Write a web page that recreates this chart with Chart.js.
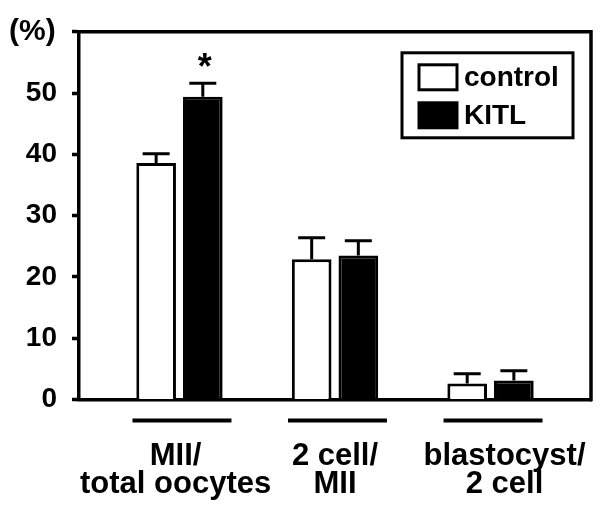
<!DOCTYPE html>
<html>
<head>
<meta charset="utf-8">
<script src="https://cdn.jsdelivr.net/npm/chart.js@4"></script>
<style>
  html, body { margin: 0; padding: 0; background: #fff; }
  #wrap { width: 600px; height: 513px; }
</style>
</head>
<body>
<div id="wrap"><canvas id="chart" width="600" height="513"></canvas></div>
<script>
// values
const categories = [['MII/', 'total oocytes'], ['2 cell/', 'MII'], ['blastocyst/', '2 cell']];
const seriesNames = ['control', 'KITL'];
const controlValues = [38.6, 22.9, 2.6];
const controlErrors = [1.5, 3.5, 1.6];
const kitlValues = [49.4, 23.5, 3.1];
const kitlErrors = [2.2, 2.4, 1.6];
const kitlMarks = ['*', '', ''];
const yTicks = [0, 10, 20, 30, 40, 50, 60];
const yTickLabels = ['0', '10', '20', '30', '40', '50', ''];
const unitLabel = '(%)';

const FONT = "'Liberation Sans', Arial, Helvetica, sans-serif";
const LINE = 3.5;
// labels in the original are not exactly centred under their groups
const LABEL_NUDGE = [-0.025, 0, 0.09];

function toPoints(values) {
    return values.map((v, i) => ({ x: i, y: v }));
}

// top and right edges of the box
const framePlugin = {
    id: 'frame',
    afterDraw(chart) {
        const { ctx, chartArea: a } = chart;
        ctx.save();
        ctx.strokeStyle = '#000';
        ctx.lineWidth = LINE;
        ctx.lineCap = 'square';
        ctx.beginPath();
        ctx.moveTo(a.left, a.top);
        ctx.lineTo(a.right, a.top);
        ctx.lineTo(a.right, a.bottom);
        ctx.stroke();
        ctx.restore();
    }
};

// error bars and significance mark
const errorPlugin = {
    id: 'errors',
    afterDatasetsDraw(chart) {
        const { ctx } = chart;
        const yScale = chart.scales.y;
        ctx.save();
        ctx.strokeStyle = '#000';
        ctx.lineWidth = 3;
        chart.data.datasets.forEach((ds, d) => {
            const meta = chart.getDatasetMeta(d);
            meta.data.forEach((bar, i) => {
                const top = yScale.getPixelForValue(ds.data[i].y + ds.errors[i]);
                ctx.beginPath();
                ctx.moveTo(bar.x, bar.y);
                ctx.lineTo(bar.x, top);
                ctx.moveTo(bar.x - 13.5, top);
                ctx.lineTo(bar.x + 13.5, top);
                ctx.stroke();
                if (ds.marks && ds.marks[i]) {
                    ctx.fillStyle = '#000';
                    ctx.font = 'bold 36px ' + FONT;
                    ctx.textAlign = 'center';
                    ctx.textBaseline = 'middle';
                    ctx.fillText(ds.marks[i], bar.x + 2, top - 14);
                }
            });
        });
        ctx.restore();
    }
};

// short lines under each group, legend box, unit label
const decorPlugin = {
    id: 'decor',
    afterDraw(chart) {
        const { ctx, chartArea: a } = chart;
        const xScale = chart.scales.x;
        ctx.save();
        ctx.strokeStyle = '#000';
        ctx.fillStyle = '#000';

        ctx.lineWidth = 4;
        categories.forEach((c, i) => {
            const cx = xScale.getPixelForValue(i);
            ctx.beginPath();
            ctx.moveTo(cx - 47, a.bottom + 21);
            ctx.lineTo(cx + 52, a.bottom + 21);
            ctx.stroke();
        });

        // legend
        const bx = a.right - 189, by = a.top + 21, bw = 171, bh = 85;
        ctx.lineWidth = 3;
        ctx.strokeRect(bx, by, bw, bh);
        ctx.font = 'bold 28px ' + FONT;
        ctx.textAlign = 'left';
        ctx.textBaseline = 'middle';
        chart.data.datasets.forEach((ds, d) => {
            const sy = by + 12 + d * 38;
            ctx.fillStyle = ds.backgroundColor;
            ctx.fillRect(bx + 17, sy, 38, 25);
            ctx.strokeRect(bx + 17, sy, 38, 25);
            ctx.fillStyle = '#000';
            ctx.fillText(ds.label, bx + 62, sy + 13);
        });

        ctx.font = 'bold 30px ' + FONT;
        ctx.textAlign = 'left';
        ctx.fillText(unitLabel, 9, a.top);
        ctx.restore();
    }
};

new Chart(document.getElementById('chart'), {
    type: 'bar',
    data: {
        datasets: [{
            label: seriesNames[0],
            data: toPoints(controlValues),
            errors: controlErrors,
            backgroundColor: '#ffffff',
            borderColor: '#000000',
            borderWidth: 3
        }, {
            label: seriesNames[1],
            data: toPoints(kitlValues),
            errors: kitlErrors,
            marks: kitlMarks,
            backgroundColor: '#000000',
            borderColor: '#000000',
            borderWidth: 3
        }]
    },
    options: {
        responsive: false,
        animation: false,
        devicePixelRatio: 1,
        layout: { padding: { left: 0, right: 9, top: 31, bottom: 0 } },
        datasets: { bar: { categoryPercentage: 0.6, barPercentage: 0.85 } },
        plugins: { legend: { display: false }, tooltip: { enabled: false } },
        scales: {
            x: {
                type: 'linear',
                min: -0.646,
                max: 2.646,
                offset: false,
                z: 1,
                afterBuildTicks: s => { s.ticks = categories.map((c, i) => ({ value: i + LABEL_NUDGE[i] })); },
                afterFit: s => { s.height = 113.5; s.paddingLeft = 0; s.paddingRight = 0; },
                grid: { display: false, drawTicks: false, offset: false },
                border: { display: true, color: '#000', width: LINE },
                ticks: {
                    autoSkip: false,
                    maxRotation: 0,
                    padding: 43,
                    color: '#000',
                    font: { family: FONT, size: 31, weight: 'bold', lineHeight: 0.9 },
                    callback: (v, i) => categories[i]
                }
            },
            y: {
                min: 0,
                max: 60,
                z: 1,
                afterBuildTicks: s => { s.ticks = yTicks.map(v => ({ value: v })); },
                afterFit: s => { s.width = 79; },
                grid: { drawOnChartArea: false, drawTicks: true, tickLength: 7, tickColor: '#000', tickWidth: LINE },
                border: { display: true, color: '#000', width: LINE },
                ticks: {
                    padding: 15,
                    color: '#000',
                    font: { family: FONT, size: 28, weight: 'bold' },
                    callback: (v, i) => yTickLabels[i]
                }
            }
        }
    },
    plugins: [framePlugin, errorPlugin, decorPlugin]
});
</script>
</body>
</html>
